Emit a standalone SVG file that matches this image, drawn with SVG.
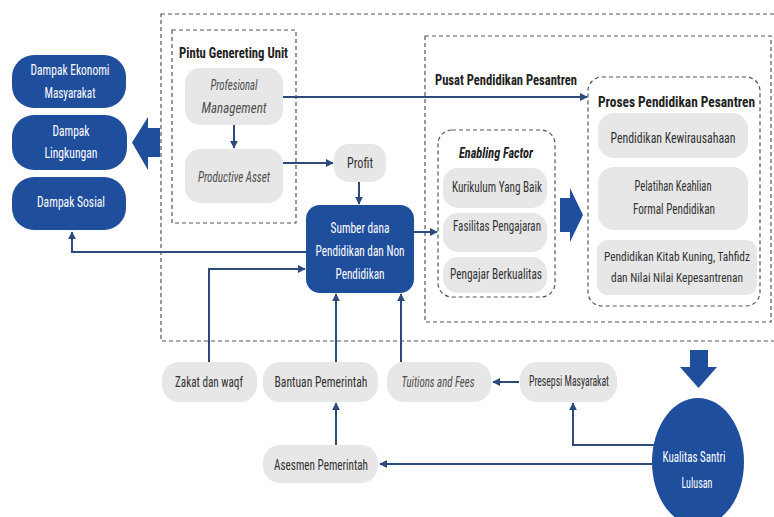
<svg xmlns="http://www.w3.org/2000/svg" width="774" height="517" viewBox="0 0 774 517">
<defs>
<style>
.t{font-family:"Liberation Sans Narrow","Roboto Condensed","DejaVu Sans Condensed","Liberation Sans",sans-serif;font-size:15px;text-anchor:middle;fill:#333}
.s{font-size:12.8px}
.w{fill:#ffffff}
.i{font-style:italic;fill:#4e4e4e}
.b{font-weight:bold;fill:#222}
.g{fill:#e7e7e7}
.bl{fill:#1f4e9d}
.box{fill:none;stroke:#555;stroke-width:1.2;stroke-dasharray:4 3}
.c{fill:none;stroke:#2d4a7c;stroke-width:2}
</style>
<marker id="ah" viewBox="0 0 10 10" refX="9" refY="5" markerWidth="4" markerHeight="4" orient="auto" markerUnits="strokeWidth">
<path d="M0,0 L10,5 L0,10 z" fill="#2d4a7c"/>
</marker>
</defs>
<rect width="774" height="517" fill="#ffffff"/>

<g id="frames">
<rect class="box" x="161" y="14" width="616" height="327"/>
<rect class="box" x="172" y="30" width="124" height="193"/>
<rect class="box" x="425" y="36" width="346" height="286"/>
<rect class="box" x="438" y="130" width="117" height="167" rx="14"/>
<rect class="box" x="588" y="77" width="172" height="229" rx="14"/>
<text class="t b" x="233.5" y="58" textLength="109" lengthAdjust="spacingAndGlyphs">Pintu Genereting Unit</text>
<text class="t b" x="506" y="85" textLength="142" lengthAdjust="spacingAndGlyphs">Pusat Pendidikan Pesantren</text>
<text class="t b i" x="496" y="158" textLength="74" lengthAdjust="spacingAndGlyphs" style="fill:#222">Enabling Factor</text>
<text class="t b" x="676.5" y="107" textLength="157" lengthAdjust="spacingAndGlyphs">Proses Pendidikan Pesantren</text>
</g>

<g id="connectors">
<line class="c" x1="234" y1="125" x2="234" y2="148" marker-end="url(#ah)"/>
<line class="c" x1="283" y1="97" x2="587" y2="97" marker-end="url(#ah)"/>
<line class="c" x1="283" y1="163" x2="333" y2="163" marker-end="url(#ah)"/>
<line class="c" x1="359" y1="182" x2="359" y2="204" marker-end="url(#ah)"/>
<line class="c" x1="414" y1="232" x2="437" y2="232" marker-end="url(#ah)"/>
<polyline class="c" points="306,252 72,252 72,232" marker-end="url(#ah)"/>
<polyline class="c" points="209,362 209,269 305,269" marker-end="url(#ah)"/>
<line class="c" x1="336" y1="362" x2="336" y2="294" marker-end="url(#ah)"/>
<line class="c" x1="401" y1="362" x2="401" y2="294" marker-end="url(#ah)"/>
<line class="c" x1="519" y1="382" x2="493" y2="382" marker-end="url(#ah)"/>
<polyline class="c" points="656,445 573,445 573,403" marker-end="url(#ah)"/>
<line class="c" x1="654" y1="464" x2="380" y2="464" marker-end="url(#ah)"/>
<line class="c" x1="336" y1="445" x2="336" y2="403" marker-end="url(#ah)"/>
<polygon class="bl" points="160,128 148,128 148,117 132,142.5 148,170 148,157 160,157"/>
<polygon class="bl" points="560,198 570,198 570,188 583,215 570,242 570,232 560,232"/>
<polygon class="bl" points="690,350 708,350 708,367 717,367 698.5,388 680,367 690,367"/>
</g>

<g id="dampak-ekonomi">
<rect class="bl" x="12" y="55" width="114" height="53" rx="22"/>
<text class="t w" x="70" y="75" textLength="79" lengthAdjust="spacingAndGlyphs">Dampak Ekonomi</text>
<text class="t w" x="70" y="98" textLength="51" lengthAdjust="spacingAndGlyphs">Masyarakat</text>
</g>
<g id="dampak-lingkungan">
<rect class="bl" x="12" y="115" width="115" height="55" rx="22"/>
<text class="t w" x="71" y="136" textLength="37" lengthAdjust="spacingAndGlyphs">Dampak</text>
<text class="t w" x="71" y="158" textLength="53" lengthAdjust="spacingAndGlyphs">Lingkungan</text>
</g>
<g id="dampak-sosial">
<rect class="bl" x="12" y="177" width="114" height="53" rx="22"/>
<text class="t w" x="71" y="207" textLength="68" lengthAdjust="spacingAndGlyphs">Dampak Sosial</text>
</g>

<g id="profesional-management">
<rect class="g" x="185" y="68" width="98" height="57" rx="15"/>
<text class="t i" x="234" y="90" textLength="47" lengthAdjust="spacingAndGlyphs">Profesional</text>
<text class="t i" x="234" y="113" textLength="65" lengthAdjust="spacingAndGlyphs">Management</text>
</g>
<g id="productive-asset">
<rect class="g" x="185" y="149" width="98" height="54" rx="15"/>
<text class="t i" x="234" y="182" textLength="72" lengthAdjust="spacingAndGlyphs">Productive Asset</text>
</g>
<g id="profit">
<rect class="g" x="334" y="144" width="52" height="38" rx="15"/>
<text class="t" x="360" y="168" textLength="26" lengthAdjust="spacingAndGlyphs">Profit</text>
</g>
<g id="sumber-dana">
<rect class="bl" x="306" y="205" width="108" height="88" rx="14"/>
<text class="t w" x="360" y="233" textLength="59" lengthAdjust="spacingAndGlyphs">Sumber dana</text>
<text class="t w" x="360" y="256" textLength="89" lengthAdjust="spacingAndGlyphs">Pendidikan dan Non</text>
<text class="t w" x="360" y="279" textLength="49" lengthAdjust="spacingAndGlyphs">Pendidikan</text>
</g>

<g id="kurikulum">
<rect class="g" x="443" y="168" width="104" height="40" rx="15"/>
<text class="t" x="497" y="192" textLength="90" lengthAdjust="spacingAndGlyphs">Kurikulum Yang Baik</text>
</g>
<g id="fasilitas">
<rect class="g" x="443" y="213" width="104" height="39" rx="15"/>
<text class="t" x="497" y="231" textLength="88" lengthAdjust="spacingAndGlyphs">Fasilitas Pengajaran</text>
</g>
<g id="pengajar">
<rect class="g" x="443" y="257" width="104" height="36" rx="15"/>
<text class="t" x="496" y="279" textLength="92" lengthAdjust="spacingAndGlyphs">Pengajar Berkualitas</text>
</g>

<g id="kewirausahaan">
<rect class="g" x="598" y="113" width="150" height="45" rx="16"/>
<text class="t" x="673" y="143" textLength="125" lengthAdjust="spacingAndGlyphs">Pendidikan Kewirausahaan</text>
</g>
<g id="pelatihan">
<rect class="g" x="598" y="167" width="150" height="63" rx="16"/>
<text class="t" x="673" y="191" textLength="77" lengthAdjust="spacingAndGlyphs">Pelatihan Keahlian</text>
<text class="t" x="674" y="214" textLength="82" lengthAdjust="spacingAndGlyphs">Formal Pendidikan</text>
</g>
<g id="kitab-kuning">
<rect class="g" x="597" y="240" width="160" height="55" rx="11"/>
<text class="t s" x="677" y="261" textLength="146" lengthAdjust="spacingAndGlyphs">Pendidikan Kitab Kuning, Tahfidz</text>
<text class="t s" x="677" y="282" textLength="132" lengthAdjust="spacingAndGlyphs">dan Nilai Nilai Kepesantrenan</text>
</g>

<g id="zakat">
<rect class="g" x="162" y="362" width="95" height="40" rx="17"/>
<text class="t" x="209" y="387" textLength="68" lengthAdjust="spacingAndGlyphs">Zakat dan waqf</text>
</g>
<g id="bantuan">
<rect class="g" x="263" y="362" width="115" height="40" rx="17"/>
<text class="t" x="321" y="387" textLength="93" lengthAdjust="spacingAndGlyphs">Bantuan Pemerintah</text>
</g>
<g id="tuitions">
<rect class="g" x="387" y="362" width="104" height="40" rx="17"/>
<text class="t i" x="438" y="387" textLength="73" lengthAdjust="spacingAndGlyphs">Tuitions and Fees</text>
</g>
<g id="presepsi">
<rect class="g" x="520" y="362" width="97" height="40" rx="17"/>
<text class="t" x="569" y="386" textLength="80" lengthAdjust="spacingAndGlyphs">Presepsi Masyarakat</text>
</g>
<g id="asesmen">
<rect class="g" x="263" y="445" width="115" height="38" rx="17"/>
<text class="t" x="321" y="470" textLength="94" lengthAdjust="spacingAndGlyphs">Asesmen Pemerintah</text>
</g>
<g id="kualitas">
<ellipse class="bl" cx="698" cy="462" rx="46" ry="64"/>
<text class="t w" x="694" y="462" textLength="63" lengthAdjust="spacingAndGlyphs">Kualitas Santri</text>
<text class="t w" x="697" y="488" textLength="31" lengthAdjust="spacingAndGlyphs">Lulusan</text>
</g>
</svg>
